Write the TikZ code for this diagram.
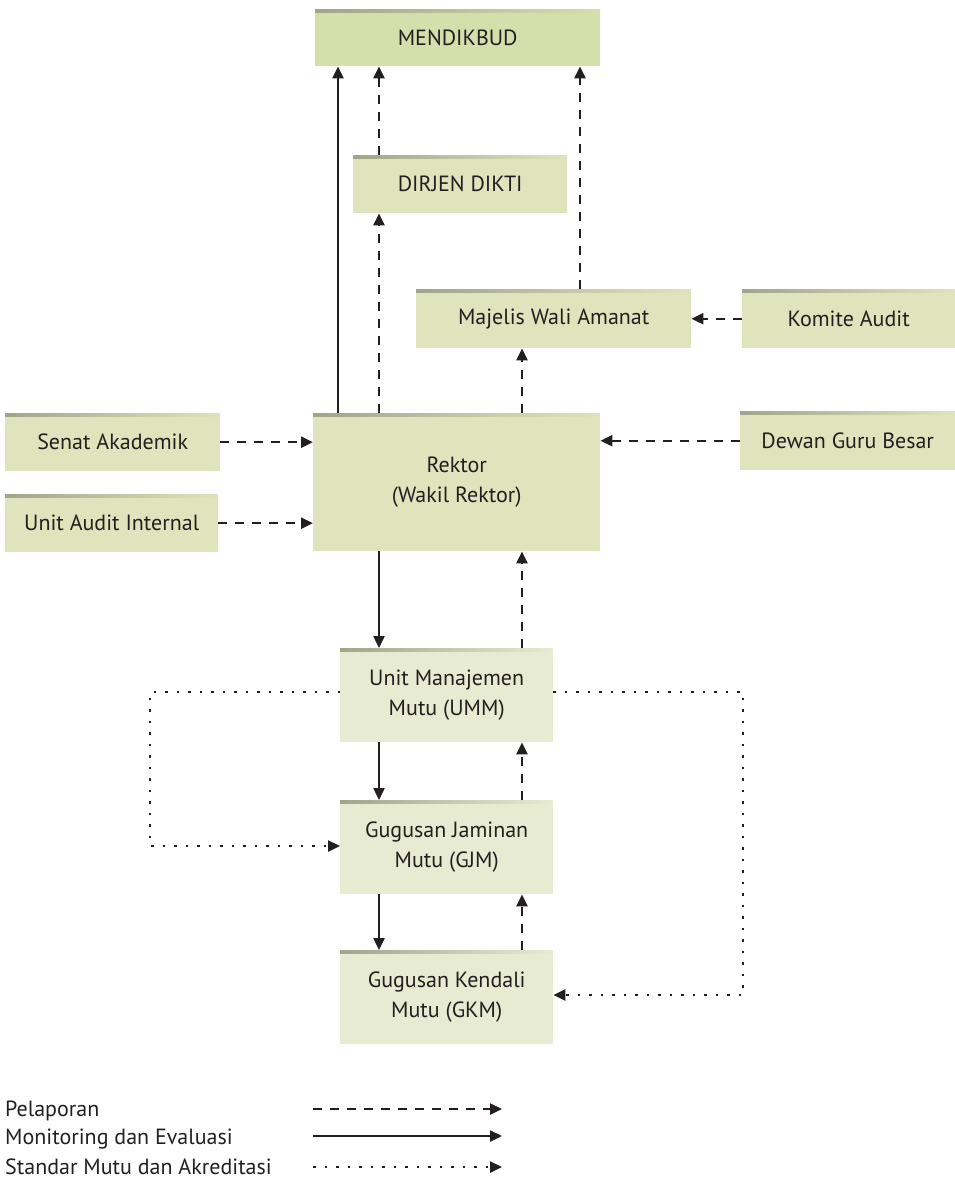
\documentclass[tikz,border=0pt]{standalone}
\usepackage{fontspec}
\setmainfont{PT Sans}
\usetikzlibrary{arrows.meta}
\definecolor{boxA}{HTML}{D5DFAB}
\definecolor{boxB}{HTML}{DFE4BD}
\definecolor{boxC}{HTML}{E7EBD2}
\definecolor{shadeTop}{HTML}{9FA58A}
\definecolor{ink}{HTML}{231F20}
\tikzset{
  box/.style={anchor=north west, inner sep=0pt, align=center, text=ink,
    font=\fontsize{22}{30}\selectfont,
    path picture={\shade[left color=shadeTop, right color=#1]
      (path picture bounding box.north west) rectangle ([yshift=-3pt]path picture bounding box.north east);},
    fill=#1},
  tip/.style={-{Triangle[length=12pt,width=11pt]}},
  mon/.style={tip, line width=2.4pt, draw=ink},
  rep/.style={tip, line width=2.4pt, draw=ink, dash pattern=on 9pt off 8pt},
  std/.style={tip, line width=2.4pt, draw=ink, dash pattern=on 2.5pt off 9pt},
  legtext/.style={anchor=west, inner sep=0pt, text=ink, font=\fontsize{22}{24}\selectfont},
}
\begin{document}
\begin{tikzpicture}[x=1pt,y=-1pt]
\useasboundingbox (0,0) rectangle (955,1184);
\node[box=boxA, minimum width=285pt, minimum height=57pt] (mend) at (315,9) {MENDIKBUD};
\node[box=boxB, minimum width=214pt, minimum height=58pt] (dirjen) at (353,155) {DIRJEN DIKTI};
\node[box=boxB, minimum width=275pt, minimum height=59pt] (mwa) at (416,289) {Majelis Wali Amanat};
\node[box=boxB, minimum width=213pt, minimum height=59pt] (komite) at (742,289) {Komite Audit};
\node[box=boxB, minimum width=215pt, minimum height=58pt] (senat) at (5,413) {Senat Akademik};
\node[box=boxB, minimum width=213pt, minimum height=58pt] (uai) at (5,494) {Unit Audit Internal};
\node[box=boxB, minimum width=287pt, minimum height=138pt] (rektor) at (313,413) {Rektor\\(Wakil Rektor)};
\node[box=boxB, minimum width=215pt, minimum height=59pt] (dgb) at (740,411) {Dewan Guru Besar};
\node[box=boxC, minimum width=213pt, minimum height=94pt] (umm) at (340,648) {Unit Manajemen\\Mutu (UMM)};
\node[box=boxC, minimum width=213pt, minimum height=94pt] (gjm) at (340,800) {Gugusan Jaminan\\Mutu (GJM)};
\node[box=boxC, minimum width=213pt, minimum height=94pt] (gkm) at (340,950) {Gugusan Kendali\\Mutu (GKM)};

% upward reporting
\draw[mon] ([xshift=25pt]rektor.north west) -- ([xshift=23pt]mend.south west);
\draw[rep] ([xshift=66pt]rektor.north west) -- ([xshift=26pt]dirjen.south west);
\draw[rep] ([xshift=26pt]dirjen.north west) -- ([xshift=64pt]mend.south west);
\draw[rep] ([xshift=209pt]rektor.north west) -- ([xshift=106pt]mwa.south west);
\draw[rep] ([xshift=164pt]mwa.north west) -- ([xshift=265pt]mend.south west);
\draw[rep] (komite.west) -- (mwa.east);
\draw[rep] (senat.east) -- (senat.east -| rektor.west);
\draw[rep] (uai.east) -- (uai.east -| rektor.west);
\draw[rep] (dgb.west) -- (dgb.west -| rektor.east);

% chain
\draw[mon] ([xshift=66pt]rektor.south west) -- ([xshift=39pt]umm.north west);
\draw[rep] ([xshift=182pt]umm.north west) -- ([xshift=209pt]rektor.south west);
\draw[mon] ([xshift=39pt]umm.south west) -- ([xshift=39pt]gjm.north west);
\draw[rep] ([xshift=182pt]gjm.north west) -- ([xshift=182pt]umm.south west);
\draw[mon] ([xshift=39pt]gjm.south west) -- ([xshift=39pt]gkm.north west);
\draw[rep] ([xshift=182pt]gkm.north west) -- ([xshift=182pt]gjm.south west);

% standards loops
\draw[std] ([yshift=-44pt]umm.north west) -| (150,760) |- ([yshift=-46pt]gjm.north west);
\draw[std] ([yshift=-44pt]umm.north east) -| (743,900) |- ([yshift=-45pt]gkm.north east);

% legend
\node[legtext] (l1) at (5,1111) {Pelaporan};
\node[legtext] (l2) at (5,1139) {Monitoring dan Evaluasi};
\node[legtext] (l3) at (5,1167) {Standar Mutu dan Akreditasi};
\coordinate (a1s) at (313,1109); \coordinate (a1e) at (502,1109);
\coordinate (a2s) at (313,1136); \coordinate (a2e) at (502,1136);
\coordinate (a3s) at (313,1167); \coordinate (a3e) at (502,1167);
\draw[rep] (a1s) -- (a1e);
\draw[mon] (a2s) -- (a2e);
\draw[std] (a3s) -- (a3e);
\end{tikzpicture}
\end{document}
